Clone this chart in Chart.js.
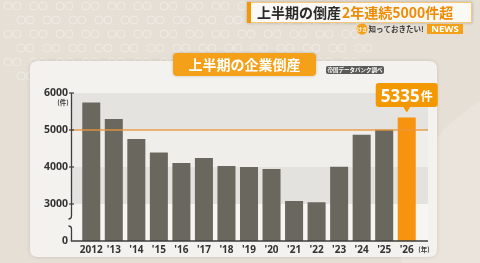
<!DOCTYPE html>
<html><head><meta charset="utf-8">
<script src="https://cdn.jsdelivr.net/npm/chart.js@4/dist/chart.umd.min.js"></script>
<style>html,body{margin:0;padding:0;background:#e6dfd5;}canvas{display:block;}</style>
</head><body>
<canvas id="c" width="480" height="263"></canvas>
<script>
const categories = ['2012',"'13","'14","'15","'16","'17","'18","'19","'20","'21","'22","'23","'24","'25","'26"];
const bankruptcies = [5746, 5297, 4757, 4395, 4108, 4243, 4027, 4000, 3946, 3081, 3046, 4006, 4874, 5010, 5335];
const yTicks = [2000, 3000, 4000, 5000, 6000];
const yTickLabels = ['0', '3000', '4000', '5000', '6000'];
const referenceLine = 5000;
const highlightLabel = '5335';

const JP = '"Noto Sans CJK JP", "Noto Sans", sans-serif';
const NUM = '"Noto Sans", "DejaVu Sans", sans-serif';

function rr(ctx, x, y, w, h, r) {
  ctx.beginPath();
  ctx.moveTo(x + r, y);
  ctx.lineTo(x + w - r, y); ctx.quadraticCurveTo(x + w, y, x + w, y + r);
  ctx.lineTo(x + w, y + h - r); ctx.quadraticCurveTo(x + w, y + h, x + w - r, y + h);
  ctx.lineTo(x + r, y + h); ctx.quadraticCurveTo(x, y + h, x, y + h - r);
  ctx.lineTo(x, y + r); ctx.quadraticCurveTo(x, y, x + r, y);
  ctx.closePath();
}

const deco = {
  id: 'deco',
  beforeDraw(chart) {
    const ctx = chart.ctx, ys = chart.scales.y, ca = chart.chartArea;
    ctx.save();
    // background
    ctx.fillStyle = '#e6dfd5';
    ctx.fillRect(0, 0, chart.width, chart.height);
    // faint circle pattern
    ctx.strokeStyle = 'rgba(255,255,255,0.35)';
    ctx.lineWidth = 1;
    for (let r = 0; r < 6; r++) {
      for (let c = 0; c < 14; c++) {
        const cx = 8 + c * 26 + (r % 2) * 13, cy = 6 + r * 14;
        ctx.beginPath(); ctx.arc(cx, cy, 4, 0, Math.PI * 2); ctx.stroke();
        ctx.beginPath(); ctx.arc(cx + 9, cy, 4, 0, Math.PI * 2); ctx.stroke();
      }
    }
    // large soft arc on right
    ctx.fillStyle = 'rgba(255,255,255,0.18)';
    ctx.beginPath(); ctx.arc(560, 240, 160, 0, Math.PI * 2); ctx.fill();
    // panel
    ctx.shadowColor = 'rgba(0,0,0,0.12)'; ctx.shadowBlur = 4;
    ctx.fillStyle = '#f4f2ee';
    rr(ctx, 30, 61, 407, 196, 8); ctx.fill();
    ctx.shadowBlur = 0;
    // bands
    const axX = ca.left - 8.5, endX = 428;
    const bands = [[6000, 5000, '#e5e3df'], [5000, 4000, '#efeeea'], [4000, 3000, '#e4e2de'], [3000, 2000, '#f6f5f2']];
    bands.forEach(b => {
      const y1 = ys.getPixelForValue(b[0]), y2 = ys.getPixelForValue(b[1]);
      ctx.fillStyle = b[2];
      ctx.fillRect(axX, y1, endX - axX, y2 - y1);
    });
    // title box
    ctx.shadowColor = 'rgba(0,0,0,0.2)'; ctx.shadowBlur = 3;
    ctx.fillStyle = '#f4a019';
    rr(ctx, 173, 53, 143, 23, 4); ctx.fill();
    ctx.shadowBlur = 0;
    ctx.fillStyle = '#ffffff';
    ctx.font = 'bold 14px ' + JP;
    ctx.textAlign = 'center'; ctx.textBaseline = 'middle';
    ctx.fillText('上半期の企業倒産', 244.5, 65);
    // source pill
    ctx.fillStyle = '#5a5a58';
    rr(ctx, 326, 66, 58, 8, 2); ctx.fill();
    ctx.fillStyle = '#ffffff';
    ctx.font = 'bold 5.5px ' + JP;
    ctx.fillText('帝国データバンク調べ', 355, 70.2);
    // header
    ctx.shadowColor = 'rgba(0,0,0,0.25)'; ctx.shadowBlur = 3;
    ctx.fillStyle = '#fbf9f5';
    ctx.fillRect(247, 2, 225, 21);
    ctx.shadowBlur = 0;
    ctx.fillStyle = '#f39800';
    ctx.fillRect(247, 2, 4, 21);
    ctx.strokeStyle = 'rgba(243,152,0,0.5)'; ctx.lineWidth = 1;
    ctx.strokeRect(247.5, 2.5, 224, 20);
    ctx.textAlign = 'left'; ctx.textBaseline = 'middle';
    ctx.font = 'bold 14px ' + JP;
    ctx.fillStyle = '#2a2a2a';
    ctx.fillText('上半期の倒産', 257, 13);
    const w1 = ctx.measureText('上半期の倒産').width;
    ctx.fillStyle = '#f08a00';
    ctx.fillText('2年連続5000件超', 257 + w1 + 1, 13);
    // sub header
    ctx.fillStyle = '#f4a019';
    ctx.beginPath(); ctx.arc(362, 29, 5.5, 0, Math.PI * 2); ctx.fill();
    ctx.fillStyle = '#ffffff'; ctx.font = 'bold 5px ' + JP; ctx.textAlign = 'center';
    ctx.fillText('けさ', 362, 29.3);
    ctx.fillStyle = '#3a3a3a'; ctx.font = 'bold 7.5px ' + JP; ctx.textAlign = 'left';
    ctx.fillText('知っておきたい!', 368.5, 29.3);
    ctx.fillStyle = '#f4a019';
    ctx.fillRect(427, 24, 36, 10);
    ctx.fillStyle = '#ffffff'; ctx.font = 'bold 9.5px ' + NUM; ctx.textAlign = 'center';
    ctx.fillText('NEWS', 445, 29.5);
    ctx.restore();
  },
  afterDatasetsDraw(chart) {
    const ctx = chart.ctx, ys = chart.scales.y, ca = chart.chartArea;
    const axX = ca.left - 8.5, endX = 428;
    ctx.save();
    // reference line
    const ly = ys.getPixelForValue(referenceLine);
    ctx.strokeStyle = 'rgba(233,150,60,0.9)'; ctx.lineWidth = 1.6;
    ctx.beginPath(); ctx.moveTo(axX, ly); ctx.lineTo(endX, ly); ctx.stroke();
    // axes
    ctx.strokeStyle = '#3e3e3e'; ctx.lineWidth = 1.3;
    const top = ys.getPixelForValue(6000), bot = ys.getPixelForValue(2000);
    ctx.beginPath();
    ctx.moveTo(axX, top); ctx.lineTo(axX, 216);
    ctx.quadraticCurveTo(axX, 219, axX - 3, 219);
    ctx.moveTo(axX, bot); ctx.lineTo(axX, 229);
    ctx.quadraticCurveTo(axX, 226, axX - 3, 226);
    ctx.stroke();
    ctx.lineWidth = 1.5;
    ctx.beginPath(); ctx.moveTo(axX - 0.7, bot); ctx.lineTo(endX, bot); ctx.stroke();
    // tick marks
    ctx.lineWidth = 1.2;
    yTicks.forEach(v => {
      if (v === 2000) return;
      const y = ys.getPixelForValue(v);
      ctx.beginPath(); ctx.moveTo(axX - 2.5, y); ctx.lineTo(axX + 2.5, y); ctx.stroke();
    });
    // unit labels
    ctx.fillStyle = '#3a3a3a';
    ctx.font = 'bold 6.5px ' + JP;
    ctx.textAlign = 'center'; ctx.textBaseline = 'middle';
    ctx.fillText('(件)', 63, 102.5);
    ctx.fillText('(年)', 424, 249.5);
    // highlight label
    const meta = chart.getDatasetMeta(0);
    const bar = meta.data[meta.data.length - 1];
    const bx = bar.x, by = bar.y;
    ctx.fillStyle = '#f39800';
    rr(ctx, bx - 31, 83, 62, 24, 3); ctx.fill();
    ctx.beginPath(); ctx.moveTo(bx - 4, 106); ctx.lineTo(bx + 4, 106); ctx.lineTo(bx, by - 5); ctx.closePath(); ctx.fill();
    ctx.fillStyle = '#ffffff';
    ctx.textAlign = 'left'; ctx.textBaseline = 'alphabetic';
    ctx.font = 'bold 17px ' + NUM;
    const tw = ctx.measureText(highlightLabel).width;
    ctx.font = 'bold 12px ' + JP;
    const uw = ctx.measureText('件').width;
    const sx = bx - (tw + uw + 1) / 2;
    ctx.font = 'bold 17px ' + NUM;
    ctx.fillText(highlightLabel, sx, 101.5);
    ctx.font = 'bold 12px ' + JP;
    ctx.fillText('件', sx + tw + 1, 101);
    ctx.restore();
  }
};

new Chart(document.getElementById('c'), {
  type: 'bar',
  data: {
    labels: categories,
    datasets: [{
      data: bankruptcies,
      backgroundColor: bankruptcies.map((v, i) => i === bankruptcies.length - 1 ? '#f7930f' : '#6a685e'),
      borderWidth: 0,
      categoryPercentage: 0.8,
      barPercentage: 1.0
    }]
  },
  options: {
    responsive: false,
    animation: false,
    devicePixelRatio: 1,
    layout: { padding: { top: 93, right: 62, left: 0, bottom: 0 } },
    plugins: { legend: { display: false }, tooltip: { enabled: false }, title: { display: false } },
    scales: {
      x: {
        grid: { display: false, drawTicks: false },
        border: { display: false },
        ticks: { color: '#333', font: { family: NUM, size: 10, weight: 'bold' }, padding: 3, maxRotation: 0, autoSkip: false },
        afterFit(s) { s.height = 22; }
      },
      y: {
        min: 2000, max: 6000,
        grid: { display: false, drawTicks: false },
        border: { display: false },
        afterBuildTicks(s) { s.ticks = yTicks.map(v => ({ value: v })); },
        ticks: {
          color: '#333', font: { family: NUM, size: 10.5, weight: 'bold' }, padding: 12,
          callback: (v) => yTickLabels[yTicks.indexOf(v)]
        },
        afterFit(s) { s.width = 80; }
      }
    }
  },
  plugins: [deco]
});
</script>
</body></html>
